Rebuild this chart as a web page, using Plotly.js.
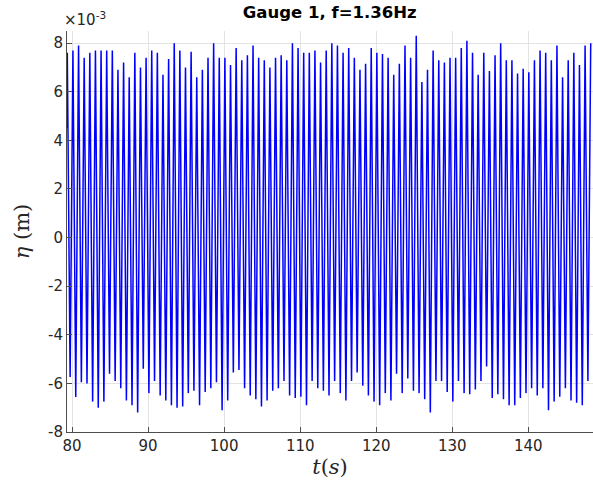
<!DOCTYPE html>
<html>
<head>
<meta charset="utf-8">
<script src="https://cdn.plot.ly/plotly-3.0.1.min.js"></script>
<style>html,body{margin:0;padding:0;background:#fff;}#plot{width:593px;height:488px;}</style>
</head>
<body>
<div id="plot"></div>
<script>
// Wave gauge record (eta in units of 1e-3 m)
const tStart = 79.33;          // first sample time (s)
const etaStart = 4.5;          // first sample value
const t0 = 79.38;              // time of first crest (s)
const period = 0.74;           // crest-to-crest spacing (s), f ~ 1.36 Hz

const crests = [
  7.6,7.7,7.9,7.4,7.6,7.7,7.7,7.7,7.7,6.9,7.2,6.6,7.6,7.0,7.4,7.7,7.6,6.7,7.35,8.0,7.7,
  7.0,7.65,6.6,6.9,7.4,8.0,7.4,7.4,7.1,7.8,7.3,7.5,7.9,7.4,7.3,7.0,7.4,7.5,7.3,8.0,7.8,7.6,7.6,7.7,
  7.2,7.7,8.0,7.9,7.6,7.8,7.4,6.9,7.15,7.8,7.6,7.55,7.4,6.7,7.15,7.9,7.4,8.3,6.4,6.9,7.7,7.3,7.2,7.4,7.4,
  7.8,8.1,7.6,6.7,7.6,6.85,7.5,8.0,7.3,7.3,6.75,6.95,6.8,7.3,7.7,7.6,7.3,7.9,6.6,7.3,7.6,7.1,7.9,8.0
];
const troughs = [
  -5.74,-6.56,-5.95,-6.0,-6.75,-7.0,-6.75,-5.6,-5.9,-6.2,-6.7,-6.9,-7.2,-5.4,-6.4,-5.9,-6.5,-6.7,-6.9,-7.0,
  -6.95,-6.4,-6.3,-6.9,-6.35,-6.2,-5.95,-7.1,-6.7,-5.55,-5.45,-6.2,-6.5,-6.65,-6.95,-6.7,-6.3,-6.2,-5.9,-6.5,-6.6,-6.55,-6.9,-5.9,-6.2,
  -6.3,-6.5,-5.9,-6.4,-6.7,-5.9,-5.55,-6.1,-6.5,-6.75,-6.9,-6.4,-6.7,-5.6,-6.4,-5.8,-6.3,-6.4,-6.65,-7.2,-5.9,-5.9,-6.35,-6.75,-5.9,
  -6.4,-6.45,-6.25,-5.9,-5.3,-6.6,-6.45,-6.65,-6.9,-6.9,-6.6,-6.4,-6.2,-6.5,-6.2,-7.1,-6.75,-6.55,-6.2,-6.7,-6.8,-6.9,-5.9
];
const xTicks = [80, 90, 100, 110, 120, 130, 140];
const yTicks = [-8, -6, -4, -2, 0, 2, 4, 6, 8];

// build the polyline: start, then alternating crest / trough
const t = [tStart], eta = [etaStart];
for (let k = 0; k < crests.length; k++) {
  t.push(t0 + k * period); eta.push(crests[k]);
  if (k < troughs.length) { t.push(t0 + (k + 0.5) * period); eta.push(troughs[k]); }
}

const axisCol = '#4d4d4d';
const gridCol = '#e3e3e3';
const tickFont = {family: 'DejaVu Sans, sans-serif', size: 15, color: '#262626'};

Plotly.newPlot('plot', [{
  x: t, y: eta, type: 'scatter', mode: 'lines',
  line: {color: '#0000ff', width: 1.5}, hoverinfo: 'skip'
}], {
  width: 593, height: 488,
  margin: {l: 67, r: 0, t: 31, b: 56},
  paper_bgcolor: '#ffffff', plot_bgcolor: '#ffffff',
  showlegend: false,
  title: {text: '<b>Gauge 1, f=1.36Hz</b>', x: 0.556, xanchor: 'center', y: 0.975, yanchor: 'middle',
          font: {family: 'DejaVu Sans, sans-serif', size: 16.5, color: '#000'}},
  xaxis: {
    range: [79.34, 148.5], tickvals: xTicks, ticktext: xTicks.map(String),
    showgrid: true, gridcolor: gridCol, gridwidth: 1, zeroline: false,
    showline: true, linecolor: axisCol, linewidth: 1, mirror: false,
    ticks: 'inside', ticklen: 5, tickcolor: axisCol, tickfont: tickFont,
    title: {text: '<i>t</i>(<i>s</i>)', standoff: 5,
            font: {family: 'DejaVu Serif, serif', size: 21, color: '#262626'}}
  },
  yaxis: {
    range: [-8, 8.5], tickvals: yTicks, ticktext: yTicks.map(String),
    showgrid: true, gridcolor: gridCol, gridwidth: 1, zeroline: false,
    showline: true, linecolor: axisCol, linewidth: 1, mirror: false,
    ticks: 'inside', ticklen: 5, tickcolor: axisCol, tickfont: tickFont,
    title: {text: '<i>η</i> (m)', standoff: 12,
            font: {family: 'DejaVu Serif, serif', size: 21, color: '#262626'}}
  },
  annotations: [{
    text: '×10<sup>-3</sup>', xref: 'paper', yref: 'paper', x: -0.01, y: 1.0,
    xanchor: 'left', yanchor: 'bottom', showarrow: false,
    font: {family: 'DejaVu Sans, sans-serif', size: 15, color: '#262626'}
  }]
}, {staticPlot: true, displayModeBar: false});
</script>
</body>
</html>
